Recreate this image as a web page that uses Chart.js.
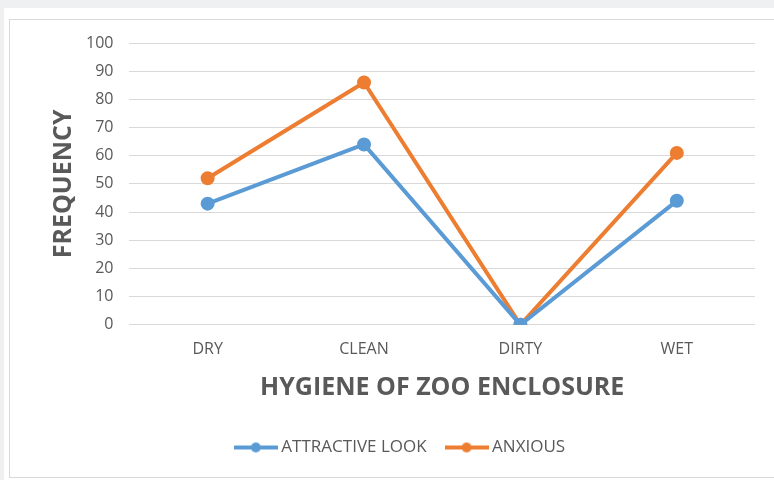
<!DOCTYPE html>
<html>
<head>
<meta charset="utf-8">
<script src="https://cdn.jsdelivr.net/npm/chart.js@4"></script>
<style>
  html, body { margin: 0; padding: 0; }
  body { width: 774px; height: 480px; background: #eef0f2; position: relative; overflow: hidden; }
  #sheet { position: absolute; left: 4px; top: 8px; right: 0; bottom: 0; background: #fff; }
  #frame { position: absolute; left: 9px; top: 19px; right: 0; bottom: 2px; border-left: 1px solid #d9d9d9; border-top: 1px solid #d9d9d9; border-bottom: 1px solid #d9d9d9; }
  #wrap { position: absolute; left: 0; top: 0; width: 774px; height: 480px; }
</style>
</head>
<body>
<div id="sheet"></div>
<div id="frame"></div>
<div id="wrap"><canvas id="lineChart"></canvas></div>
<script>
  // Chart data
  const categories = ['DRY', 'CLEAN', 'DIRTY', 'WET'];
  const attractiveLook = [43, 64, 0, 44];
  const anxious = [52, 86, 0, 61];
  const yTicks = [0, 10, 20, 30, 40, 50, 60, 70, 80, 90, 100];

  const blue = '#5b9bd5';
  const orange = '#ed7d31';
  const textGray = '#595959';
  const fontFamily = '"Open Sans", "Liberation Sans", sans-serif';

  // Build a small line-with-dot image for the legend
  function legendMarker(color) {
    const c = document.createElement('canvas');
    c.width = 44;
    c.height = 12;
    const ctx = c.getContext('2d');
    ctx.strokeStyle = color;
    ctx.lineWidth = 4;
    ctx.beginPath();
    ctx.moveTo(0, 6);
    ctx.lineTo(44, 6);
    ctx.stroke();
    ctx.fillStyle = color;
    ctx.beginPath();
    ctx.arc(22, 6, 5, 0, Math.PI * 2);
    ctx.fill();
    return c;
  }

  const ctx = document.getElementById('lineChart').getContext('2d');
  new Chart(ctx, {
    type: 'line',
    data: {
      labels: categories,
      datasets: [
        {
          label: 'ATTRACTIVE LOOK',
          data: attractiveLook,
          borderColor: blue,
          backgroundColor: blue,
          borderWidth: 4,
          pointRadius: 5,
          pointHoverRadius: 5,
          tension: 0,
          fill: false
        },
        {
          label: 'ANXIOUS',
          data: anxious,
          borderColor: orange,
          backgroundColor: orange,
          borderWidth: 4,
          pointRadius: 5,
          pointHoverRadius: 5,
          tension: 0,
          fill: false
        }
      ]
    },
    options: {
      responsive: true,
      maintainAspectRatio: false,
      animation: false,
      layout: { padding: { left: 49, right: 19, top: 43, bottom: 14 } },
      plugins: {
        tooltip: { enabled: false },
        legend: {
          position: 'bottom',
          labels: {
            usePointStyle: true,
            pointStyleWidth: 34,
            boxHeight: 12,
            padding: 23,
            color: textGray,
            font: { family: fontFamily, size: 17 },
            generateLabels: chart => chart.data.datasets.map((ds, i) => ({
              text: ds.label,
              fillStyle: ds.borderColor,
              strokeStyle: ds.borderColor,
              fontColor: textGray,
              lineWidth: 0,
              pointStyle: legendMarker(ds.borderColor),
              datasetIndex: i,
              hidden: false
            }))
          }
        }
      },
      scales: {
        x: {
          offset: true,
          grid: { display: false },
          border: { display: false },
          ticks: { color: textGray, font: { family: fontFamily, size: 16 }, padding: 7 },
          title: {
            display: true,
            text: 'HYGIENE OF ZOO ENCLOSURE',
            color: textGray,
            font: { family: fontFamily, size: 25, weight: 'bold' },
            padding: { top: 7, bottom: 13 }
          }
        },
        y: {
          min: yTicks[0],
          max: yTicks[yTicks.length - 1],
          afterBuildTicks: axis => { axis.ticks = yTicks.map(v => ({ value: v })); },
          grid: { color: '#d9d9d9', lineWidth: 1, drawTicks: false },
          border: { display: false },
          ticks: { color: textGray, font: { family: fontFamily, size: 16 }, padding: 16 },
          title: {
            display: true,
            text: 'FREQUENCY',
            color: textGray,
            font: { family: fontFamily, size: 25, weight: 'bold' },
            padding: { top: 0, bottom: -9 }
          }
        }
      }
    }
  });
</script>
</body>
</html>
